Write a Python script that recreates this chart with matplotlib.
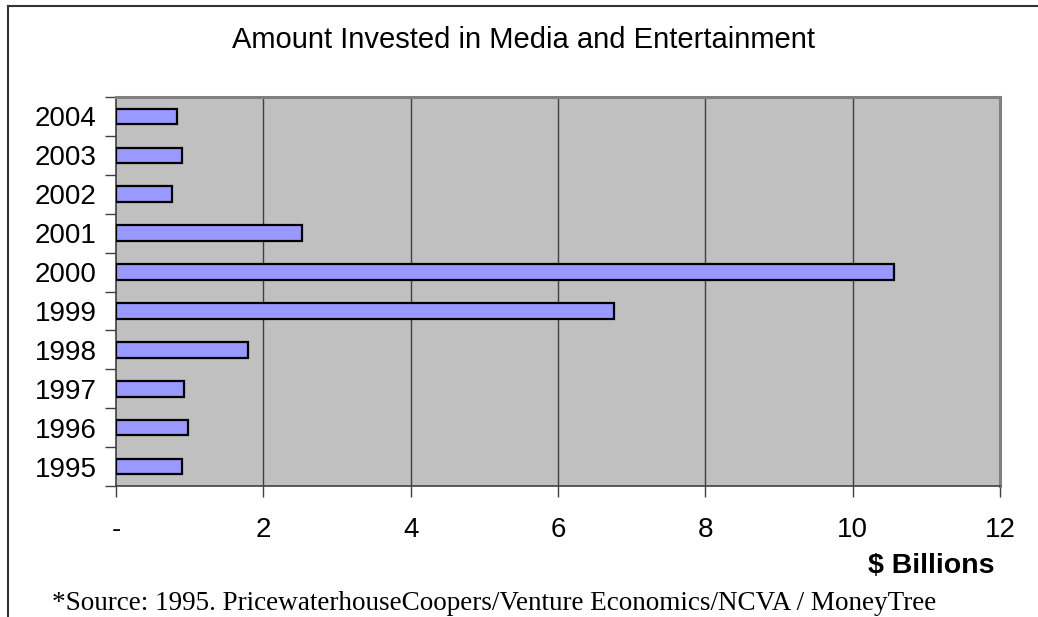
import matplotlib
matplotlib.use("Agg")
import matplotlib.pyplot as plt
from matplotlib.lines import Line2D
import numpy as np

years = ["1995", "1996", "1997", "1998", "1999", "2000", "2001", "2002", "2003", "2004"]
invested = [0.89, 0.98, 0.92, 1.79, 6.76, 10.56, 2.52, 0.76, 0.89, 0.83]
x_ticks = [0, 2, 4, 6, 8, 10, 12]
x_tick_labels = ["-", "2", "4", "6", "8", "10", "12"]

plt.rcParams["font.family"] = ["Liberation Sans", "DejaVu Sans"]

W, H = 1038, 617
fig = plt.figure(figsize=(W / 100, H / 100), dpi=100)

# chart frame (left and top edges visible)
fig.add_artist(Line2D([8 / W, 8 / W], [0, 1 - 6 / H], color="#333333", lw=1.5))
fig.add_artist(Line2D([8 / W, 1], [1 - 6 / H, 1 - 6 / H], color="#333333", lw=1.5))

ax = fig.add_axes([116 / W, 1 - 486 / H, (1000 - 116) / W, (486 - 97) / H])
ax.set_facecolor("#C0C0C0")

pos = np.arange(len(years))
ax.barh(pos, invested, height=0.4, color="#9999FF", edgecolor="black",
        linewidth=1.6, zorder=3)

ax.set_xlim(0, 12)
ax.set_ylim(-0.5, len(years) - 0.5)

ax.set_xticks(x_ticks)
ax.set_xticklabels(x_tick_labels, fontsize=20)
ax.tick_params(axis="x", direction="out", length=8, width=1, color="#404040", pad=14)

ax.set_yticks(pos)
ax.set_yticklabels(years, fontsize=20)
ax.tick_params(axis="y", which="major", length=0, pad=14)
ax.set_yticks(np.arange(-0.5, len(years), 1.0), minor=True)
ax.tick_params(axis="y", which="minor", direction="out", length=8, width=1, color="#404040")

for v in x_ticks[1:-1]:
    ax.axvline(v, color="#404040", lw=1, zorder=1)

for side in ("left", "bottom"):
    ax.spines[side].set_color("#404040")
    ax.spines[side].set_linewidth(1.2)
for side in ("top", "right"):
    ax.spines[side].set_color("#808080")
    ax.spines[side].set_linewidth(2.2)

fig.text(524 / W, 1 - 40 / H, "Amount Invested in Media and Entertainment",
         ha="center", va="center", fontsize=21)
fig.text(995 / W, 1 - 566 / H, "$ Billions", ha="right", va="center",
         fontsize=20.5, fontweight="bold")
fig.text(52 / W, 1 - 603 / H,
         "*Source: 1995. PricewaterhouseCoopers/Venture Economics/NCVA / MoneyTree",
         ha="left", va="center", fontsize=19.5, family="Liberation Serif")

fig.savefig("out.png", dpi=100)
